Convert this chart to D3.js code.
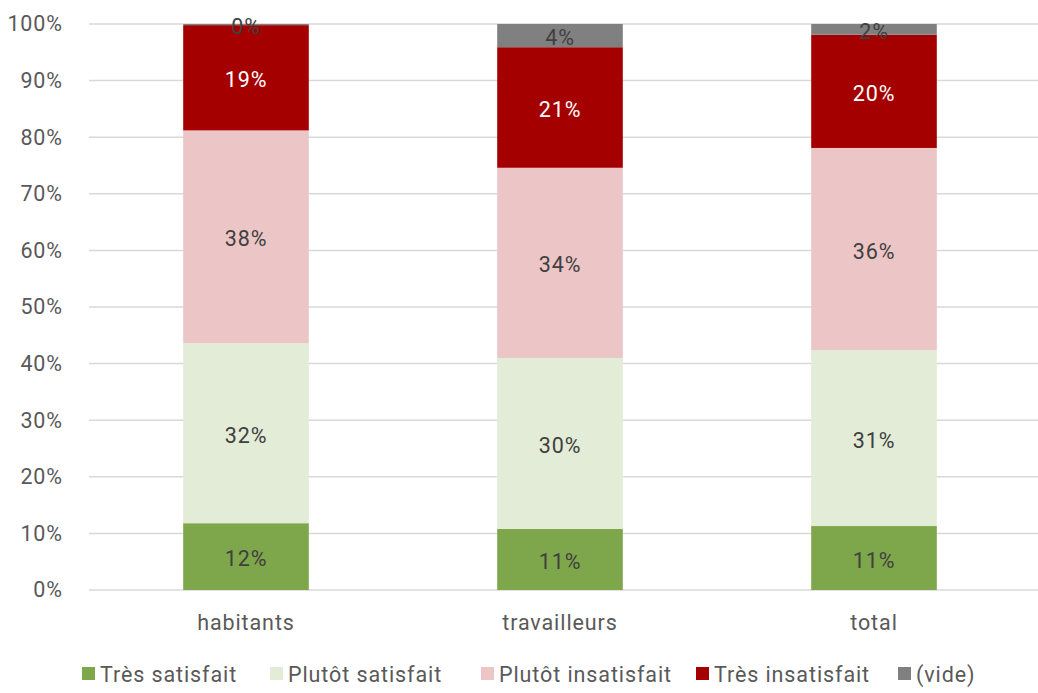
<!DOCTYPE html>
<html>
<head>
<meta charset="utf-8">
<script src="https://cdn.jsdelivr.net/npm/d3@7"></script>
<style>
  body { margin: 0; background: #fff; }
  text { font-family: Roboto, "Noto Sans", sans-serif; letter-spacing: 0.9px; }
</style>
</head>
<body>
<script>
// data
var groups = ["habitants", "travailleurs", "total"];
var series = ["Très satisfait", "Plutôt satisfait", "Plutôt insatisfait", "Très insatisfait", "(vide)"];
var tresSatisfait    = [11.8, 10.8, 11.3];
var plutotSatisfait  = [31.8, 30.2, 31.1];
var plutotInsatisfait= [37.6, 33.6, 35.7];
var tresInsatisfait  = [18.6, 21.3, 20.0];
var vide             = [0.2, 4.1, 1.9];
var yTicks = [0, 10, 20, 30, 40, 50, 60, 70, 80, 90, 100];

var colors = ["#7ea64a", "#e3ecd6", "#ecc5c6", "#a50000", "#808080"];
var labelColors = ["#404040", "#404040", "#404040", "#ffffff", "#404040"];

var width = 1038, height = 693;
var margin = {top: 24, right: 7, bottom: 103, left: 89};
var fs = "21.5px";

var svg = d3.select("body")
  .append("svg")
    .attr("width", width)
    .attr("height", height);

var values = [tresSatisfait, plutotSatisfait, plutotInsatisfait, tresInsatisfait, vide];
var table = groups.map(function(g, i) {
  var row = {group: g};
  series.forEach(function(s, j) { row[s] = values[j][i]; });
  return row;
});
var stacked = d3.stack().keys(series)(table);

var x = d3.scaleBand()
  .domain(groups)
  .range([margin.left, width - margin.right])
  .padding(0);
var barW = x.bandwidth() * 0.4;

var y = d3.scaleLinear()
  .domain([0, 100])
  .range([height - margin.bottom, margin.top]);

// gridlines
svg.append("g")
  .selectAll("line")
  .data(yTicks)
  .join("line")
    .attr("x1", margin.left)
    .attr("x2", width)
    .attr("y1", function(d) { return y(d); })
    .attr("y2", function(d) { return y(d); })
    .attr("stroke", "#d9d9d9")
    .attr("stroke-width", 1.5);

// y axis labels
var yAxis = svg.append("g")
  .attr("transform", "translate(" + (margin.left - 23) + ",0)")
  .call(d3.axisLeft(y).tickValues(yTicks).tickFormat(function(d) { return d + "%"; }).tickSize(0));
yAxis.select(".domain").remove();
yAxis.selectAll("text")
  .attr("fill", "#595959")
  .style("font-family", "Roboto, sans-serif")
  .style("font-size", fs);

// bars
var layer = svg.append("g")
  .selectAll("g")
  .data(stacked)
  .join("g")
    .attr("fill", function(d, i) { return colors[i]; });

layer.selectAll("rect")
  .data(function(d) { return d; })
  .join("rect")
    .attr("x", function(d) { return x(d.data.group) + (x.bandwidth() - barW) / 2; })
    .attr("y", function(d) { return y(d[1]); })
    .attr("width", barW)
    .attr("height", function(d) { return y(d[0]) - y(d[1]); });

// labels
svg.append("g")
  .selectAll("g")
  .data(stacked)
  .join("g")
    .attr("fill", function(d, i) { return labelColors[i]; })
  .selectAll("text")
  .data(function(d) { return d; })
  .join("text")
    .attr("x", function(d) { return x(d.data.group) + x.bandwidth() / 2; })
    .attr("y", function(d) { return (y(d[0]) + y(d[1])) / 2 + 2; })
    .attr("dy", "0.35em")
    .attr("text-anchor", "middle")
    .style("font-size", fs)
    .text(function(d) { return Math.round(d[1] - d[0]) + "%"; });

// x labels
svg.append("g")
  .selectAll("text")
  .data(groups)
  .join("text")
    .attr("x", function(d) { return x(d) + x.bandwidth() / 2; })
    .attr("y", 630)
    .attr("text-anchor", "middle")
    .attr("fill", "#595959")
    .style("font-size", fs)
    .text(function(d) { return d; });

// legend
var legendX = [82, 270, 481, 696, 898];
var legend = svg.append("g")
  .selectAll("g")
  .data(series)
  .join("g")
    .attr("transform", function(d, i) { return "translate(" + legendX[i] + ",674)"; });
legend.append("rect")
  .attr("x", 0)
  .attr("y", -7)
  .attr("width", 13)
  .attr("height", 13)
  .attr("fill", function(d, i) { return colors[i]; });
legend.append("text")
  .attr("x", 18)
  .attr("y", 0)
  .attr("dy", "0.35em")
  .attr("fill", "#595959")
  .style("font-size", fs)
  .text(function(d) { return d; });
</script>
</body>
</html>
